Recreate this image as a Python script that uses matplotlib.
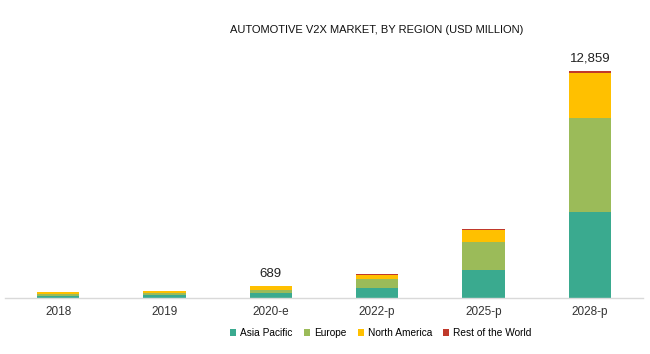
import matplotlib
matplotlib.use("Agg")
import matplotlib.pyplot as plt
from matplotlib.patches import Patch
import numpy as np

# data (USD million)
years = ["2018", "2019", "2020-e", "2022-p", "2025-p", "2028-p"]
asia_pacific = [130, 150, 290, 560, 1560, 4870]
europe = [110, 130, 160, 510, 1585, 5320]
north_america = [100, 125, 215, 255, 720, 2550]
rest_of_world = [10, 12, 24, 50, 60, 119]
labels = {2: "689", 5: "12,859"}

series_names = ["Asia Pacific", "Europe", "North America", "Rest of the World"]
colors = ["#3AAA8F", "#9BBB59", "#FFC000", "#C0392B"]

plt.rcParams['font.family'] = ['Liberation Sans', 'DejaVu Sans']

fig = plt.figure(figsize=(6.5, 3.54), dpi=100)
ax = fig.add_axes([5 / 650, 56 / 354, 638 / 650, 248 / 354])

x = np.arange(len(years))
bottom = np.zeros(len(years))
for vals, c in zip([asia_pacific, europe, north_america, rest_of_world], colors):
    ax.bar(x, vals, 0.4, bottom=bottom, color=c, linewidth=0)
    bottom += np.array(vals)

# totals above selected bars
for i, txt in labels.items():
    ax.text(x[i], bottom[i] + 350, txt, ha="center", va="bottom", fontsize=9.5, color="#222222")

ax.set_xlim(-0.5, len(years) - 0.5)
ax.set_ylim(0, 14050)
ax.set_yticks([])
ax.set_xticks(x)
ax.set_xticklabels(years, fontsize=8.5, color="#333333")
ax.tick_params(axis="x", length=0, pad=6)
for s in ["top", "left", "right"]:
    ax.spines[s].set_visible(False)
ax.spines["bottom"].set_color("#D9D9D9")
ax.spines["bottom"].set_linewidth(1)

fig.text(377 / 650, 1 - 30 / 354, "AUTOMOTIVE V2X MARKET, BY REGION (USD MILLION)",
         ha="center", va="center", fontsize=8, color="#111111")

handles = [Patch(facecolor=c, edgecolor="none") for c in colors]
fig.legend(handles, series_names, loc="center", bbox_to_anchor=(381 / 650, 1 - 333 / 354),
           ncol=4, frameon=False, fontsize=7.3, handlelength=0.6, handleheight=0.6,
           handletextpad=0.4, columnspacing=1.1)

fig.savefig("out.png", dpi=100)
